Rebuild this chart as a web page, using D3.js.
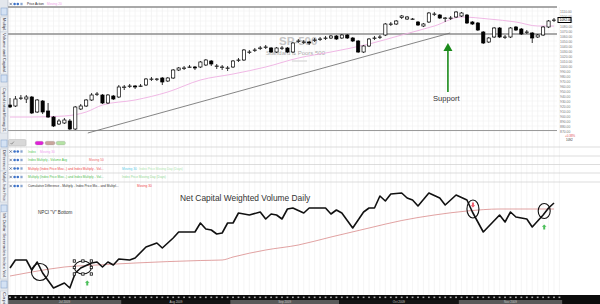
<!DOCTYPE html>
<html>
<head>
<meta charset="utf-8">
<script src="https://cdn.jsdelivr.net/npm/d3@7"></script>
<style>
body { margin: 0; background: #fff; }
svg { display: block; font-family: "Liberation Sans", Arial, sans-serif; }
</style>
</head>
<body>
<div id="chart"></div>
<script>
// daily candles, [open, high, low, close]
const candles = [
  [922,936,916,918],[920,940,918,934],[935,942,932,936],[934,942,926,938],[938,940,904,906],
  [908,934,906,932],[930,932,904,908],[910,926,896,898],[898,900,878,880],[884,894,882,890],
  [886,896,884,892],[890,894,872,874],[874,920,872,918],[914,924,912,920],[920,934,918,932],
  [932,946,930,942],[943,948,940,944],[942,944,924,926],[926,944,924,942],[940,942,932,934],
  [938,962,936,958],[957,962,952,958],[959,964,956,960],[960,962,954,958],[959,964,958,960],
  [962,976,960,974],[973,978,970,974],[973,976,970,974],[976,978,962,968],[970,978,968,976],
  [976,994,974,992],[992,998,990,996],[995,1000,992,996],[997,1002,996,998],[998,1000,992,996],
  [998,1010,996,1008],[1002,1014,1000,1012],[1010,1012,1000,1004],[999,1004,994,1000],[997,1002,992,998],
  [995,1000,990,996],[998,1012,996,1010],[1011,1016,1008,1012],[1012,1034,1010,1032],[1027,1032,1024,1028],
  [1031,1036,1028,1032],[1035,1040,1032,1036],[1037,1042,1034,1038],[1036,1038,1026,1028],[1028,1038,1026,1036],
  [1035,1040,1032,1036],[1036,1038,1026,1028],[1028,1048,1026,1046],[1049,1054,1046,1050],[1047,1052,1044,1048],
  [1048,1050,1042,1046],[1051,1056,1048,1052],[1053,1058,1050,1054],[1055,1060,1052,1056],[1056,1062,1054,1060],
  [1060,1062,1052,1054],[1056,1064,1054,1062],[1062,1064,1054,1056],[1056,1058,1048,1050],[1050,1052,1026,1028],
  [1028,1042,1026,1040],[1040,1056,1038,1054],[1055,1060,1052,1056],[1057,1062,1054,1058],[1062,1086,1060,1084],
  [1083,1088,1080,1084],[1084,1092,1082,1090],[1097,1102,1094,1100],[1094,1100,1092,1098],[1093,1096,1092,1094],
  [1088,1090,1080,1082],[1080,1086,1078,1084],[1088,1108,1086,1106],[1103,1108,1100,1104],[1102,1104,1094,1096],
  [1095,1098,1088,1096],[1095,1100,1092,1096],[1098,1110,1096,1108],[1100,1108,1098,1106],[1102,1104,1084,1086],
  [1088,1090,1082,1084],[1086,1088,1070,1072],[1068,1070,1044,1046],[1048,1058,1046,1056],[1058,1078,1056,1076],
  [1076,1078,1056,1058],[1057,1062,1054,1058],[1058,1078,1056,1076],[1078,1080,1070,1072],[1074,1076,1062,1064],
  [1067,1072,1064,1068],[1066,1068,1046,1056],[1058,1064,1056,1062],[1062,1080,1060,1078],[1078,1092,1076,1090],
  [1091,1096,1088,1092]
];

// price moving average, [day, value]
const priceMa = [
  [0,898],[4,898],[10,900],[14,908],[17,922],[23,932],[29,948],[35,972],[41,984],[47,998],
  [53,1016],[59,1028],[66,1044],[72,1062],[78,1080],[83,1098],[88,1094],[93,1088],[97,1080],[100,1080]
];

// net capital weighted volume, [day, value]
const volumeLine = [
  [0,22],[1,30],[3,30],[4,20],[5,28],[6,17],[8,2],[10,7],[11,2],[12,17],[13,22],[15,27],[16,28],
  [17,23],[18,28],[19,25],[20,31],[22,30],[23,32],[25,43],[27,47],[28,42],[30,52],[31,58],[34,58],
  [35,67],[36,61],[37,60],[38,56],[39,57],[40,67],[41,67],[42,77],[44,75],[46,78],[47,71],[48,76],
  [49,75],[50,71],[51,81],[52,82],[54,77],[55,82],[58,82],[59,76],[60,80],[61,77],[63,62],[65,78],
  [66,82],[67,82],[68,94],[69,89],[70,96],[72,97],[73,92],[74,90],[75,84],[77,97],[79,92],[80,85],
  [82,95],[84,90],[85,78],[87,58],[90,75],[91,68],[92,78],[93,73],[95,71],[96,63],[98,75],[99,82],[100,87]
];

// moving average of the volume line, [day, value]
const volumeMa = [
  [0,14],[4,18],[10,23],[16,25],[23,27],[35,29.5],[39,30],[41,33],[47,40],[53,45],
  [59,53],[66,62],[72,69.5],[78,75],[84,79],[90,81],[96,81],[100,81]
];

const priceTicks = [1110,1100,1090,1080,1070,1060,1050,1040,1030,1020,1010,1000,990,
                    980,970,960,950,940,930,920,910,900,890,880,870];

const monthLabels = ['Jul 2009', 'Aug 2009', 'Sep 2009', 'Oct 2009', 'Nov 2009'];
const monthStarts = [0, 21, 41, 61, 83];

const headerLabels = ['Price Action', 'Moving 20'];
const legendLabels = [
  ['Index', 'Moving 30'],
  ['Index Multiply - Volume Avg', 'Moving 50'],
  ['Multiply (Index Price Mov...) and Index Multiply - Vol...', 'Moving 30', 'Index Price Moving Day (Days)'],
  ['Multiply (Index Price Mov...) and Index Multiply - Vol...', 'Index Price Moving Day (Days)'],
  ['Cumulative Difference - Multiply - Index Price Mo... and Multipl...', 'Moving 30']
];
const sideLabels = ['Multipl.', 'Volume and Capital.', 'Capitalization Moving 21', 'Difference',
                    'Multipl. Index Price', 'Mt Dollar Serenades Index Vol.', 'Capi'];

class NetCapitalChart {

  constructor (width, height) {
    this.width = width;
    this.height = height;
    this.svg = d3.select('#chart')
                 .append('svg')
                 .attr('width', width)
                 .attr('height', height);

    this.xSlot = d3.scaleLinear().domain([0, 100]).range([10, 554]);
    this.yPrice = d3.scaleLinear().domain([870, 1110]).range([131, 11]);
    this.yVol = d3.scaleLinear().domain([0, 100]).range([290, 190]);
  }

  drawGrid () {
    let that = this;
    let g = this.svg.append('g').classed('grid', true);

    g.selectAll('line.v')
     .data(d3.range(0, 102))
     .enter().append('line')
     .attr('x1', d => that.xSlot(d)).attr('x2', d => that.xSlot(d))
     .attr('y1', 7).attr('y2', 295)
     .attr('stroke', '#efefef').attr('stroke-width', 0.6);

    g.selectAll('line.h')
     .data(priceTicks)
     .enter().append('line')
     .attr('x1', 8).attr('x2', 557)
     .attr('y1', d => that.yPrice(d)).attr('y2', d => that.yPrice(d))
     .attr('stroke', '#f2f2f2').attr('stroke-width', 0.6);
  }

  drawPricePanel () {
    let that = this;
    let g = this.svg.append('g').classed('price', true);

    // panel border lines and user drawn levels
    [1118, 1064].forEach(p => {
      g.append('line')
       .attr('x1', 8).attr('x2', 557)
       .attr('y1', that.yPrice(p)).attr('y2', that.yPrice(p))
       .attr('stroke', '#8c8c8c').attr('stroke-width', 1.3);
    });
    g.append('line')
     .attr('x1', 8).attr('x2', 557).attr('y1', 130.5).attr('y2', 130.5)
     .attr('stroke', '#9a9a9a').attr('stroke-width', 1.2);

    // trend line
    g.append('line')
     .attr('x1', this.xSlot(14.3)).attr('y1', this.yPrice(866))
     .attr('x2', this.xSlot(80.9)).attr('y2', this.yPrice(1066))
     .attr('stroke', '#777').attr('stroke-width', 0.9);

    // watermark
    g.append('text').text('SP-500')
     .attr('x', 279).attr('y', 45)
     .style('font-size', '11.5px').style('font-weight', 'bold')
     .attr('fill', '#c6c6c6');
    g.append('text').text('Standard & Poors 500')
     .attr('x', 266).attr('y', 55)
     .style('font-size', '6px').attr('fill', '#aaa');
    g.append('line')
     .attr('x1', 292).attr('x2', 307).attr('y1', 61).attr('y2', 61)
     .attr('stroke', '#c8c8c8').attr('stroke-width', 0.8);

    // moving average
    let maLine = d3.line()
                   .x(d => that.xSlot(d[0]))
                   .y(d => that.yPrice(d[1]))
                   .curve(d3.curveMonotoneX);
    g.append('path')
     .attr('d', maLine(priceMa))
     .attr('fill', 'none').attr('stroke', '#eeb0e2').attr('stroke-width', 0.9);

    // candles
    let bodyW = 3.2;
    let c = g.selectAll('g.candle')
             .data(candles)
             .enter().append('g')
             .classed('candle', true);

    c.append('line')
     .attr('x1', (d, i) => that.xSlot(i)).attr('x2', (d, i) => that.xSlot(i))
     .attr('y1', d => that.yPrice(d[1])).attr('y2', d => that.yPrice(d[2]))
     .attr('stroke', '#000').attr('stroke-width', 0.8);

    c.append('rect')
     .attr('x', (d, i) => that.xSlot(i) - bodyW / 2)
     .attr('y', d => that.yPrice(Math.max(d[0], d[3])))
     .attr('width', bodyW)
     .attr('height', d => Math.max(0.4, that.yPrice(Math.min(d[0], d[3])) - that.yPrice(Math.max(d[0], d[3]))))
     .attr('fill', d => d[3] >= d[0] ? '#fff' : '#000')
     .attr('stroke', '#000').attr('stroke-width', 0.7);

    // support arrow
    let ax = this.xSlot(80.5);
    g.append('line')
     .attr('x1', ax).attr('x2', ax)
     .attr('y1', this.yPrice(948)).attr('y2', this.yPrice(1032))
     .attr('stroke', '#1a8a1a').attr('stroke-width', 1.6);
    g.append('path')
     .attr('d', `M${ax},${this.yPrice(1046)} L${ax + 4.5},${this.yPrice(1030)} L${ax - 4.5},${this.yPrice(1030)} Z`)
     .attr('fill', '#1a8a1a');
    g.append('text').text('Support')
     .attr('x', 433).attr('y', 101)
     .style('font-size', '7.6px').attr('fill', '#333');
  }

  drawPriceAxis () {
    let axis = d3.axisRight(this.yPrice)
                 .tickValues(priceTicks)
                 .tickFormat(d3.format('.2f'))
                 .tickSize(0)
                 .tickPadding(0);

    let g = this.svg.append('g')
                .attr('transform', 'translate(560,0)')
                .call(axis);
    g.select('.domain').remove();
    g.selectAll('text')
     .style('font-size', '3.4px')
     .style('font-family', '"Liberation Sans", Arial, sans-serif')
     .attr('fill', '#777');

    // last price marker
    let last = candles[candles.length - 1][3];
    let ly = this.yPrice(last);
    this.svg.append('rect')
        .attr('x', 558).attr('y', ly - 2.5).attr('width', 13).attr('height', 5)
        .attr('fill', '#fff').attr('stroke', '#000').attr('stroke-width', 1);
    this.svg.append('text').text(d3.format('.2f')(last))
        .attr('x', 559.5).attr('y', ly + 1.2)
        .style('font-size', '3.4px').attr('fill', '#000');

    this.svg.append('text').text('+0.38%')
        .attr('x', 565).attr('y', 137)
        .style('font-size', '3px').attr('fill', '#e05050');
    this.svg.append('text').text('1092')
        .attr('x', 566).attr('y', 141)
        .style('font-size', '3px').attr('fill', '#333');
  }

  drawRowIcons (g, y) {
    g.append('path')
     .attr('d', `M9.5,${y - 1.2} l2.4,2.4 M11.9,${y - 1.2} l-2.4,2.4`)
     .attr('stroke', '#2b3f6a').attr('stroke-width', 0.6);
    [14.6, 17.8].forEach(cx => {
      g.append('circle')
       .attr('cx', cx).attr('cy', y).attr('r', 1.3)
       .attr('fill', '#3d72c8');
    });
    g.append('rect')
     .attr('x', 20.4).attr('y', y - 1.2).attr('width', 2.2).attr('height', 2.4)
     .attr('fill', '#8aa6d0');
  }

  drawLegend () {
    let that = this;
    let g = this.svg.append('g').classed('legend', true);

    // header of the price panel
    this.drawRowIcons(g, 4);
    let headerLayout = [[27, '#222'], [47, '#f0a0e8']];
    headerLabels.forEach((t, i) => {
      g.append('text').text(t)
       .attr('x', headerLayout[i][0]).attr('y', 5.2)
       .style('font-size', '3.2px').attr('fill', headerLayout[i][1]);
    });

    // toolbar
    g.append('rect')
     .attr('x', 8.5).attr('y', 139.5).attr('width', 17.5).attr('height', 6.5).attr('rx', 1.2)
     .attr('fill', '#d8d8d8').attr('stroke', '#b8b8b8').attr('stroke-width', 0.5);
    g.append('path')
     .attr('d', 'M10.5,143 l1.2,1.2 l2.2,-2.6')
     .attr('fill', 'none').attr('stroke', '#666').attr('stroke-width', 0.6);
    [[35, 8.5, '#e020d8'], [45, 10, '#c9a59c'], [56, 9.5, '#b4e2a4']].forEach(p => {
      g.append('rect')
       .attr('x', p[0]).attr('y', 141.3).attr('width', p[1]).attr('height', 3.6).attr('rx', 1.8)
       .attr('fill', p[2]).attr('stroke', '#999').attr('stroke-width', 0.3);
    });

    // row separators
    [147, 156, 164.5, 173, 182].forEach(y => {
      g.append('line')
       .attr('x1', 8).attr('x2', 600).attr('y1', y).attr('y2', y)
       .attr('stroke', '#cfcfcf').attr('stroke-width', 0.7);
    });

    let rowY = [151.5, 160, 168.5, 177, 186];
    let layout = [
      [[28, '#5ccc5c'], [40, '#f0a0f0']],
      [[28, '#4cbf4c'], [89, '#f06868']],
      [[28, '#f04848'], [122, '#58cce8'], [139, '#b0e6b0']],
      [[28, '#50c050'], [122, '#94d894']],
      [[28, '#333'], [137, '#f04848']]
    ];
    legendLabels.forEach((row, r) => {
      that.drawRowIcons(g, rowY[r]);
      row.forEach((t, i) => {
        g.append('text').text(t)
         .attr('x', layout[r][i][0]).attr('y', rowY[r] + 1.1)
         .style('font-size', '3.2px').attr('fill', layout[r][i][1]);
      });
    });
  }

  drawVolumePanel () {
    let that = this;
    let g = this.svg.append('g').classed('volume', true);

    g.append('text').text('Net Capital Weighted Volume Daily')
     .attr('x', 180).attr('y', 200.5)
     .style('font-size', '8.4px').attr('fill', '#333');
    g.append('text').text('NPCI "V" Bottom')
     .attr('x', 38).attr('y', 214.2)
     .style('font-size', '4.6px').attr('fill', '#333');

    let line = d3.line()
                 .x(d => that.xSlot(d[0]))
                 .y(d => that.yVol(d[1]));

    g.append('path')
     .attr('d', line.curve(d3.curveMonotoneX)(volumeMa))
     .attr('fill', 'none').attr('stroke', '#d98a8a').attr('stroke-width', 0.8);

    g.append('path')
     .attr('d', line.curve(d3.curveLinear)(volumeLine))
     .attr('fill', 'none').attr('stroke', '#111')
     .attr('stroke-width', 1.6).attr('stroke-linejoin', 'round');

    // annotations
    let marks = [[5.5, 18, 8.5, 8.5], [13.4, 22.5, 8.5, 6.5], [85.1, 81, 6, 9], [98.2, 79, 6, 7.5]];
    marks.forEach(m => {
      g.append('ellipse')
       .attr('cx', that.xSlot(m[0])).attr('cy', that.yVol(m[1]))
       .attr('rx', m[2]).attr('ry', m[3])
       .attr('fill', 'none').attr('stroke', '#111').attr('stroke-width', 1.1);
    });

    // selection handles round the second mark
    let hx = this.xSlot(13.4), hy = this.yVol(22.5);
    [-8.5, 0, 8.5].forEach(dx => {
      [-6.5, 0, 6.5].forEach(dy => {
        if (dx === 0 && dy === 0) return;
        g.append('rect')
         .attr('x', hx + dx - 1.2).attr('y', hy + dy - 1.2)
         .attr('width', 2.4).attr('height', 2.4)
         .attr('fill', '#fff').attr('stroke', '#111').attr('stroke-width', 0.8);
      });
    });

    let blockArrow = (cx, cy, up, color) => {
      let s = up ? 1 : -1;
      let p = `M${cx},${cy - 2.6 * s} L${cx + 2.3},${cy - 0.3 * s} L${cx + 1},${cy - 0.3 * s} ` +
              `L${cx + 1},${cy + 2.4 * s} L${cx - 1},${cy + 2.4 * s} L${cx - 1},${cy - 0.3 * s} ` +
              `L${cx - 2.3},${cy - 0.3 * s} Z`;
      g.append('path').attr('d', p).attr('fill', color);
    };
    blockArrow(this.xSlot(14.2), this.yVol(7), true, '#4cbf5a');
    blockArrow(this.xSlot(98.2), this.yVol(63), true, '#4cbf5a');
    blockArrow(this.xSlot(85.1), this.yVol(85), false, '#f06070');
  }

  drawTimeAxis () {
    let that = this;
    let g = this.svg.append('g').classed('time', true);

    g.append('rect')
     .attr('x', 7).attr('y', 295).attr('width', this.width - 7).attr('height', 9)
     .attr('fill', '#0c0c0c');

    g.selectAll('rect.tick')
     .data(d3.range(0, 102))
     .enter().append('rect')
     .attr('x', d => that.xSlot(d) - 0.9).attr('y', 296.6)
     .attr('width', 1.8).attr('height', 1.5)
     .attr('fill', '#b0b0b0');

    monthStarts.forEach((s, i) => {
      let e = i + 1 < monthStarts.length ? monthStarts[i + 1] : 102;
      let x0 = that.xSlot(s - 0.5), x1 = that.xSlot(e - 0.5);
      g.append('rect')
       .attr('x', x0).attr('y', 300).attr('width', x1 - x0).attr('height', 4)
       .attr('fill', i % 2 === 0 ? '#5a5a5a' : '#141414');
      g.append('text').text(monthLabels[i])
       .attr('x', (x0 + x1) / 2).attr('y', 303)
       .style('text-anchor', 'middle').style('font-size', '3px')
       .attr('fill', '#c8c8c8');
    });
  }

  drawSidebar () {
    let g = this.svg.append('g').classed('sidebar', true);

    g.append('rect')
     .attr('x', 0).attr('y', 0).attr('width', 8).attr('height', this.height)
     .attr('fill', '#e3e7ed');
    g.append('line')
     .attr('x1', 8).attr('x2', 8).attr('y1', 0).attr('y2', this.height)
     .attr('stroke', '#a8b0bc').attr('stroke-width', 0.6);

    [8, 75, 140, 205, 281].forEach(y => {
      g.append('rect')
       .attr('x', 1).attr('y', y).attr('width', 6).attr('height', 7)
       .attr('fill', '#d4e2f4').attr('stroke', '#7d9dc8').attr('stroke-width', 0.5);
    });

    let spans = [[18, 31], [33, 73], [88, 132], [150, 170], [172, 201], [213, 278], [292, 304]];
    sideLabels.forEach((t, i) => {
      g.append('rect')
       .attr('x', 0.6).attr('y', spans[i][0] - 1).attr('width', 6.8).attr('height', spans[i][1] - spans[i][0] + 2)
       .attr('fill', '#eef0f4').attr('stroke', '#b9c0cc').attr('stroke-width', 0.4);
      g.append('text').text(t)
       .attr('transform', `translate(2.6,${spans[i][0]}) rotate(90)`)
       .attr('textLength', spans[i][1] - spans[i][0]).attr('lengthAdjust', 'spacingAndGlyphs')
       .style('font-size', '4.4px').attr('fill', '#334');
    });
  }
}

let chart = new NetCapitalChart(600, 304);
chart.drawGrid();
chart.drawPricePanel();
chart.drawPriceAxis();
chart.drawLegend();
chart.drawVolumePanel();
chart.drawTimeAxis();
chart.drawSidebar();
</script>
</body>
</html>
